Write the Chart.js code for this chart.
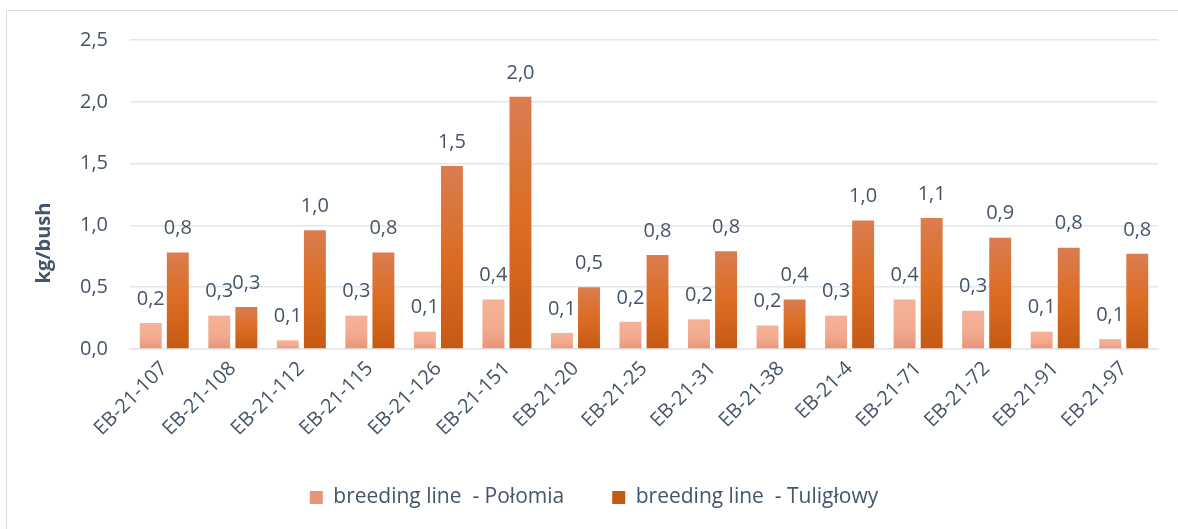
<!DOCTYPE html>
<html lang="en">
<head>
    <meta charset="UTF-8">
    <title>kg/bush by breeding line</title>
    <script src="https://cdn.jsdelivr.net/npm/chart.js"></script>
    <style>
        html, body { margin: 0; padding: 0; background: #fff; }
        #wrap { position: relative; width: 1178px; height: 529px; overflow: hidden; }
        #frame { position: absolute; left: 6px; top: 10px; width: 1200px; height: 560px; border: 1.5px solid #D9DEE5; pointer-events: none; }
        canvas { position: absolute; left: 0; top: 0; }
    </style>
</head>
<body>
    <div id="wrap">
        <canvas id="chart" width="1178" height="529"></canvas>
        <div id="frame"></div>
    </div>

    <script>
        const lines = ['EB-21-107', 'EB-21-108', 'EB-21-112', 'EB-21-115', 'EB-21-126', 'EB-21-151', 'EB-21-20',
            'EB-21-25', 'EB-21-31', 'EB-21-38', 'EB-21-4', 'EB-21-71', 'EB-21-72', 'EB-21-91', 'EB-21-97'];
        const polomia = [0.21, 0.27, 0.07, 0.27, 0.14, 0.40, 0.13, 0.22, 0.24, 0.19, 0.27, 0.40, 0.31, 0.14, 0.08];
        const tuliglowy = [0.78, 0.34, 0.96, 0.78, 1.48, 2.04, 0.50, 0.76, 0.79, 0.40, 1.04, 1.06, 0.90, 0.82, 0.77];
        const yTicks = [0, 0.5, 1.0, 1.5, 2.0, 2.5];
        const yTitle = 'kg/bush';

        const textColor = '#44546A';
        const font = 'Open Sans';
        const comma = v => v.toFixed(1).replace('.', ',');

        // gradient per bar, like the Excel fill
        function barFill(stops, flat) {
            return function (ctx) {
                const chart = ctx.chart;
                if (!chart.chartArea || ctx.raw === undefined) return flat;
                const y = chart.scales.y;
                const top = y.getPixelForValue(ctx.raw);
                const bottom = y.getPixelForValue(0);
                if (bottom - top < 1) return flat;
                const g = chart.ctx.createLinearGradient(0, top, 0, bottom);
                stops.forEach(s => g.addColorStop(s[0], s[1]));
                return g;
            };
        }

        // value labels above the bars + the y title (sits lower than the plot centre in the original)
        const extras = {
            id: 'extras',
            afterDatasetsDraw(chart) {
                const c = chart.ctx;
                c.save();
                c.font = '20px "' + font + '"';
                c.fillStyle = textColor;
                c.textAlign = 'center';
                c.textBaseline = 'middle';
                chart.data.datasets.forEach((ds, i) => {
                    chart.getDatasetMeta(i).data.forEach((bar, j) => {
                        c.fillText(comma(ds.data[j]), bar.x, bar.y - 24);
                    });
                });
                c.translate(44, 243);
                c.rotate(-Math.PI / 2);
                c.font = 'bold 20px "' + font + '"';
                c.fillText(yTitle, 0, 0);
                c.restore();
            }
        };

        new Chart(document.getElementById('chart'), {
            type: 'bar',
            data: {
                labels: lines,
                datasets: [{
                    label: 'breeding line  - Połomia',
                    data: polomia,
                    backgroundColor: barFill([[0, '#F5B298'], [0.6, '#F2AA8E'], [1, '#E79478']], '#F2AA8E'),
                    categoryPercentage: 0.79,
                    barPercentage: 0.81
                }, {
                    label: 'breeding line  - Tuligłowy',
                    data: tuliglowy,
                    backgroundColor: barFill([[0, '#DA7D50'], [0.5, '#DC6C23'], [1, '#C55A14']], '#D96A22'),
                    categoryPercentage: 0.79,
                    barPercentage: 0.81
                }]
            },
            options: {
                responsive: false,
                animation: false,
                layout: { padding: { top: 40, right: 20, left: 30, bottom: 11 } },
                scales: {
                    y: {
                        min: 0,
                        max: 2.5,
                        afterBuildTicks: s => { s.ticks = yTicks.map(v => ({ value: v })); },
                        afterFit: s => { s.width = 100; },
                        ticks: {
                            color: textColor,
                            padding: 22,
                            font: { family: font, size: 20 },
                            callback: v => comma(v)
                        },
                        grid: { color: '#E3E6EA', lineWidth: 1.5, drawTicks: false },
                        border: { display: false }
                    },
                    x: {
                        afterFit: s => { s.height = 90; },
                        ticks: {
                            color: textColor,
                            minRotation: 45,
                            maxRotation: 45,
                            padding: 0,
                            font: { family: font, size: 20 }
                        },
                        grid: { display: false },
                        border: { color: '#E3E6EA', width: 1.5 }
                    }
                },
                plugins: {
                    legend: {
                        position: 'bottom',
                        labels: {
                            color: textColor,
                            boxWidth: 13,
                            boxHeight: 13,
                            padding: 48,
                            font: { family: font, size: 21 }
                        }
                    },
                    tooltip: { enabled: false }
                }
            },
            plugins: [extras]
        });
    </script>
</body>
</html>
